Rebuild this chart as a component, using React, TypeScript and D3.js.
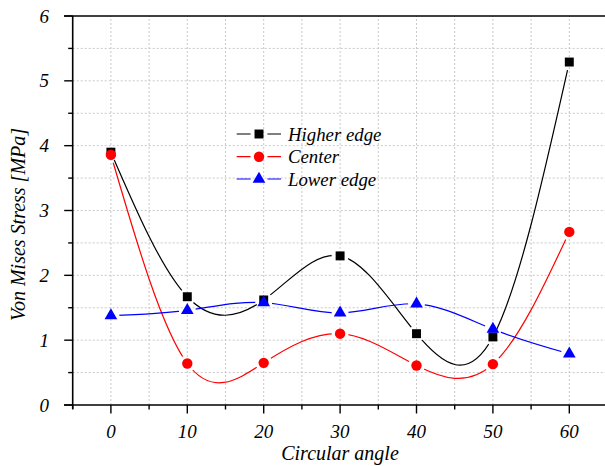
import React, { useEffect, useRef } from "react";
import * as d3 from "d3";

const W = 605;
const H = 466;

const angles = [0, 10, 20, 30, 40, 50, 60];
const higherEdge = [3.9, 1.67, 1.62, 2.3, 1.1, 1.05, 5.29];
const center = [3.86, 0.64, 0.65, 1.1, 0.61, 0.63, 2.67];
const lowerEdge = [1.38, 1.46, 1.58, 1.42, 1.56, 1.17, 0.79];

const xMajor = [0, 10, 20, 30, 40, 50, 60];
const yMajor = [0, 1, 2, 3, 4, 5, 6];

const FONT = "'Liberation Serif', 'Times New Roman', serif";

const series = [
  { name: "Higher edge", values: higherEdge, color: "#000000", symbol: d3.symbolSquare, size: 80 },
  { name: "Center", values: center, color: "#ff0000", symbol: d3.symbolCircle, size: 85 },
  { name: "Lower edge", values: lowerEdge, color: "#0000ff", symbol: d3.symbolTriangle, size: 70 },
];

export default function App() {
  const svgRef = useRef<SVGSVGElement>(null);

  useEffect(() => {
    const svg = d3.select(svgRef.current);
    svg.selectAll("*").remove();

    const x = d3.scaleLinear().domain([-5, 65]).range([72.7, 607.5]);
    const y = d3.scaleLinear().domain([0, 6]).range([405, 16]);

    const defs = svg.append("defs");

    // Grid (dotted, major and minor)
    const grid = svg.append("g");
    d3.range(0, 65, 5).forEach((v) => {
      grid.append("line")
        .attr("x1", x(v)).attr("x2", x(v))
        .attr("y1", y(0)).attr("y2", y(6))
        .attr("stroke", "#c8c8c8").attr("stroke-width", 1)
        .attr("stroke-dasharray", "2,2");
    });
    d3.range(0.5, 6, 0.5).forEach((v) => {
      grid.append("line")
        .attr("x1", x(-5)).attr("x2", x(65))
        .attr("y1", y(v)).attr("y2", y(v))
        .attr("stroke", "#c8c8c8").attr("stroke-width", 1)
        .attr("stroke-dasharray", "2,2");
    });

    // Axes frame
    svg.append("line").attr("x1", 64).attr("x2", W).attr("y1", y(6)).attr("y2", y(6))
      .attr("stroke", "#000").attr("stroke-width", 1.6);
    svg.append("line").attr("x1", 64).attr("x2", W).attr("y1", y(0)).attr("y2", y(0))
      .attr("stroke", "#000").attr("stroke-width", 1.6);
    svg.append("line").attr("x1", x(-5)).attr("x2", x(-5)).attr("y1", y(6)).attr("y2", y(0) + 4)
      .attr("stroke", "#000").attr("stroke-width", 1.6);

    // Y ticks
    d3.range(0, 6.01, 0.5).forEach((v) => {
      const major = Math.abs(v - Math.round(v)) < 1e-6;
      svg.append("line")
        .attr("x1", x(-5) - (major ? 8.5 : 4.5)).attr("x2", x(-5))
        .attr("y1", y(v)).attr("y2", y(v))
        .attr("stroke", "#000").attr("stroke-width", 1.4);
    });
    svg.append("g").selectAll("text").data(yMajor).join("text")
      .attr("x", 49).attr("y", (d) => y(d) + 6.5)
      .attr("text-anchor", "end")
      .attr("font-family", FONT).attr("font-style", "italic").attr("font-size", 19)
      .text((d) => d);

    // X ticks
    d3.range(-5, 61, 5).forEach((v) => {
      const major = v % 10 === 0;
      svg.append("line")
        .attr("x1", x(v)).attr("x2", x(v))
        .attr("y1", y(0)).attr("y2", y(0) + (major ? 8.5 : 4.5))
        .attr("stroke", "#000").attr("stroke-width", 1.4);
    });
    svg.append("g").selectAll("text").data(xMajor).join("text")
      .attr("x", (d) => x(d)).attr("y", 437.5)
      .attr("text-anchor", "middle")
      .attr("font-family", FONT).attr("font-style", "italic").attr("font-size", 19)
      .text((d) => d);

    // Axis titles
    svg.append("text")
      .attr("x", 340).attr("y", 459.5)
      .attr("text-anchor", "middle")
      .attr("font-family", FONT).attr("font-style", "italic").attr("font-size", 20)
      .text("Circular angle");
    svg.append("text")
      .attr("transform", `translate(24.5,${224.5}) rotate(-90)`)
      .attr("text-anchor", "middle")
      .attr("font-family", FONT).attr("font-style", "italic").attr("font-size", 20)
      .text("Von Mises Stress [MPa]");

    const line = d3.line<number>()
      .x((_, i) => x(angles[i]))
      .y((d) => y(d))
      .curve(d3.curveNatural);

    // Legend positions
    const legX0 = 236.7;
    const legX1 = 281;
    const legMx = 259;
    const legY = [134, 156.7, 179];

    series.forEach((s, si) => {
      const maskId = `gap-${si}`;
      const mask = defs.append("mask").attr("id", maskId).attr("maskUnits", "userSpaceOnUse")
        .attr("x", 0).attr("y", 0).attr("width", W).attr("height", H);
      mask.append("rect").attr("width", W).attr("height", H).attr("fill", "#fff");
      s.values.forEach((v, i) => {
        mask.append("circle").attr("cx", x(angles[i])).attr("cy", y(v)).attr("r", 8.5).attr("fill", "#000");
      });
      mask.append("circle").attr("cx", legMx).attr("cy", legY[si]).attr("r", 8.5).attr("fill", "#000");

      const g = svg.append("g");
      g.append("path")
        .datum(s.values)
        .attr("d", line)
        .attr("fill", "none")
        .attr("stroke", s.color)
        .attr("stroke-width", 1.2)
        .attr("mask", `url(#${maskId})`);

      const sym = d3.symbol().type(s.symbol).size(s.size);
      g.selectAll("path.pt").data(s.values).join("path")
        .attr("class", "pt")
        .attr("transform", (d, i) => `translate(${x(angles[i])},${y(d)})`)
        .attr("d", sym)
        .attr("fill", s.color);

      // legend entry
      g.append("line")
        .attr("x1", legX0).attr("x2", legX1).attr("y1", legY[si]).attr("y2", legY[si])
        .attr("stroke", s.color).attr("stroke-width", 1.2)
        .attr("mask", `url(#${maskId})`);
      g.append("path")
        .attr("transform", `translate(${legMx},${legY[si]})`)
        .attr("d", sym)
        .attr("fill", s.color);
      g.append("text")
        .attr("x", 288).attr("y", legY[si] + 6.7)
        .attr("font-family", FONT).attr("font-style", "italic").attr("font-size", 18.8)
        .text(s.name);
    });
  }, []);

  return (
    <div style={{ position: "absolute", left: 0, top: 0, width: W, height: H, background: "#fff" }}>
      <svg ref={svgRef} width={W} height={H} style={{ display: "block" }} />
    </div>
  );
}
